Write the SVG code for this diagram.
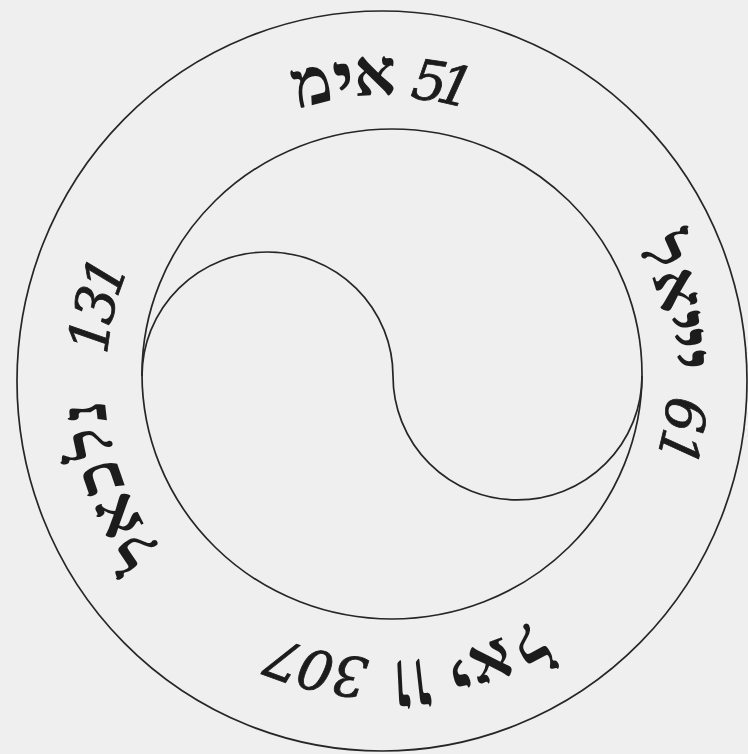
<svg xmlns="http://www.w3.org/2000/svg" width="748" height="754" viewBox="0 0 748 754">
<style>
.ring{fill:none;stroke:#262626;stroke-width:1.7}
.he{font-family:"Liberation Serif","DejaVu Sans",serif;font-weight:bold;font-size:66px;fill:#1c1c1c;text-anchor:middle}
.yod{font-size:82px}
.num{font-family:"DejaVu Serif","Liberation Serif",serif;font-style:italic;font-size:55px;fill:#1c1c1c;text-anchor:middle;stroke:#1c1c1c;stroke-width:0.8}
</style>
<rect width="748" height="754" fill="#efefef"/>
<g id="rings">
<ellipse id="outer" class="ring" cx="382" cy="381" rx="365" ry="370"/>
<ellipse id="inner" class="ring" cx="392" cy="374" rx="250" ry="245"/>
<path id="s-curve" class="ring" d="M142,376 A125.5 124 0 0 1 393,376 A124.5 124 0 0 0 642,376"/>
</g>
<g id="label-top">
<text class="he" x="387" y="95" transform="rotate(-14.4 387 378)">מ</text>
<text class="he yod" x="387" y="106" transform="rotate(-8.2 387 378)">י</text>
<text class="he" x="387" y="95" transform="rotate(-2.3 387 378)">א</text>
<text class="num" x="387" y="97" transform="rotate(8.2 387 378)">5</text>
<text class="num" x="387" y="97" transform="rotate(13.3 387 378)">1</text>
</g>
<g id="label-right">
<text class="he" x="387" y="95" transform="rotate(65.6 387 378)">ל</text>
<text class="he" x="387" y="95" transform="rotate(73 387 378)">א</text>
<text class="he yod" x="387" y="106" transform="rotate(79.2 387 378)">י</text>
<text class="he yod" x="387" y="106" transform="rotate(82.6 387 378)">י</text>
<text class="he yod" x="387" y="106" transform="rotate(86.6 387 378)">י</text>
<text class="num" x="387" y="97" transform="rotate(97.1 387 378)">6</text>
<text class="num" x="387" y="97" transform="rotate(103.4 387 378)">1</text>
</g>
<g id="label-bottom">
<text class="he" x="387" y="95" transform="rotate(151.8 387 378)">ל</text>
<text class="he" x="387" y="95" transform="rotate(159.8 387 378)">א</text>
<text class="he yod" x="387" y="106" transform="rotate(166.2 387 378)">י</text>
<text class="he" x="0" y="0" transform="rotate(173.5 387 378) translate(387 95) scale(1 1.25)">ו</text>
<text class="he" x="0" y="0" transform="rotate(177.2 387 378) translate(387 95) scale(1 1.25)">ו</text>
<text class="num" x="387" y="97" transform="rotate(187.1 387 378)">3</text>
<text class="num" x="387" y="97" transform="rotate(193.8 387 378)">0</text>
<text class="num" x="387" y="97" transform="rotate(200 387 378)">7</text>
</g>
<g id="label-left">
<text class="he" x="387" y="95" transform="rotate(235.7 387 378)">ל</text>
<text class="he" x="387" y="95" transform="rotate(242.8 387 378)">א</text>
<text class="he" x="387" y="95" transform="rotate(250.8 387 378)">כ</text>
<text class="he" x="387" y="95" transform="rotate(257.7 387 378)">ל</text>
<text class="he" x="387" y="95" transform="rotate(263.5 387 378)">נ</text>
<text class="num" x="387" y="97" transform="rotate(278.2 387 378)">1</text>
<text class="num" x="387" y="97" transform="rotate(284.2 387 378)">3</text>
<text class="num" x="387" y="97" transform="rotate(289.9 387 378)">1</text>
</g>
</svg>
